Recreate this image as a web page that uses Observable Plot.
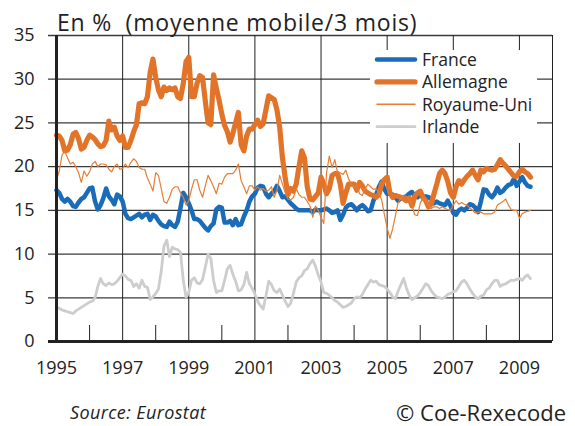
<!DOCTYPE html>
<html><head><meta charset="utf-8">
<script src="https://cdn.jsdelivr.net/npm/d3@7"></script>
<script src="https://cdn.jsdelivr.net/npm/@observablehq/plot@0.6"></script>
<style>
body{margin:0;background:#fff;}
#chart{width:575px;height:426px;}
</style></head><body><div id="chart"></div>
<script>
// Monthly data, January 1995 -> May 2009 (3-month moving average, %)
const startYear = 1995;
const france = [
17.3,17.0,16.3,16.0,16.3,16.0,15.5,15.4,15.9,16.3,16.5,17.0,17.5,17.6,16.0,15.1,15.6,16.4,17.5,16.6,
16.2,15.7,16.8,16.6,16.0,14.6,14.1,14.0,14.2,14.4,14.6,14.2,14.5,14.6,13.9,14.5,14.3,13.8,13.4,13.2,
13.1,13.7,13.3,13.1,13.7,15.3,17.0,16.5,15.8,15.0,14.0,14.0,13.8,13.4,13.0,12.7,13.2,13.5,15.1,15.4,
15.3,13.6,13.6,13.8,13.3,14.0,13.3,13.4,14.3,15.0,16.0,16.6,16.9,17.6,17.8,17.7,16.9,16.5,16.9,17.2,
17.8,17.2,16.5,16.6,16.2,15.8,15.5,15.2,15.0,15.0,15.0,15.0,15.0,14.8,15.1,15.0,15.0,15.1,15.2,15.0,
14.7,14.8,15.0,13.9,14.5,15.3,15.6,15.7,15.4,15.0,15.4,15.6,15.3,14.9,15.0,16.1,16.8,17.7,18.3,17.4,
16.9,16.9,16.8,16.5,16.1,16.4,16.5,16.6,16.9,17.1,16.6,16.5,16.9,16.4,16.6,16.5,16.3,15.8,16.0,15.8,
15.7,15.6,16.1,15.5,14.7,14.5,15.0,15.2,15.0,15.3,15.7,15.6,15.3,14.8,16.0,17.4,17.3,16.8,16.5,16.9,
17.6,17.0,17.2,17.6,17.9,18.0,18.6,17.8,18.3,18.8,18.2,17.8,17.7
];
const allemagne = [
23.6,23.5,23.0,21.8,21.9,22.5,23.7,23.9,23.2,22.0,22.2,23.0,23.6,23.4,23.1,22.6,22.3,22.4,23.0,25.2,
24.2,24.5,23.5,23.0,23.5,22.2,22.2,23.0,24.0,24.8,27.2,27.3,27.2,28.0,30.8,32.3,30.2,28.8,28.0,29.1,
28.7,29.0,28.8,29.0,28.0,27.8,29.5,32.0,32.5,28.0,28.0,29.5,30.4,30.2,27.5,25.0,24.8,30.5,29.0,27.6,
26.0,24.7,24.0,22.8,23.8,25.0,26.2,22.5,21.8,23.5,24.3,24.3,24.8,25.3,24.6,24.9,26.5,28.1,27.9,27.7,
26.5,24.5,21.0,18.7,16.8,17.5,17.2,18.0,20.0,21.8,21.0,17.7,16.3,16.2,16.6,17.0,18.8,18.0,16.9,17.5,
19.0,19.2,19.2,18.0,15.8,17.0,18.0,18.0,18.0,17.3,18.2,17.8,17.2,17.0,16.8,16.7,16.5,16.8,18.0,18.5,
18.8,17.0,16.5,16.7,16.6,16.5,16.3,16.1,16.4,15.5,16.6,17.0,17.2,16.5,16.1,15.4,15.7,16.9,18.0,19.2,
19.6,19.2,18.3,17.0,16.5,17.7,18.4,18.0,18.5,18.9,19.2,19.6,19.0,18.5,19.6,19.4,19.8,19.7,19.6,19.7,
20.2,20.8,20.4,20.1,19.7,19.3,18.9,18.9,19.4,19.7,19.4,19.2,18.8
];
const royaumeUni = [
18.5,19.5,21.3,21.8,21.0,20.3,20.5,20.0,19.3,18.2,19.5,18.9,19.4,20.3,20.6,20.0,20.3,20.3,20.2,19.7,
19.4,20.0,20.3,19.7,19.8,20.3,19.9,20.5,20.9,20.6,19.9,19.7,19.7,18.7,18.0,17.2,19.3,19.0,17.5,16.0,
15.8,16.5,17.4,17.7,17.7,17.0,16.5,15.6,16.1,17.4,18.5,18.5,17.3,16.5,17.8,19.0,18.4,17.7,16.9,18.1,
18.0,18.8,19.2,19.2,19.2,19.6,20.3,18.4,17.7,16.9,17.8,17.8,17.3,17.7,17.3,17.5,17.2,17.3,17.7,16.5,
17.3,19.0,18.0,17.0,16.3,16.2,16.5,17.5,16.8,16.5,16.5,16.0,15.5,14.2,15.5,15.0,14.2,13.5,19.3,21.2,
19.9,20.8,19.3,19.3,19.1,19.6,18.6,18.0,17.7,17.9,16.9,16.7,17.5,18.0,17.7,17.4,17.5,17.0,16.2,14.5,
13.0,11.8,12.9,14.4,15.9,16.4,16.7,16.6,16.2,15.6,14.5,14.4,15.8,16.4,16.2,15.6,15.2,15.4,15.4,15.2,
15.4,15.2,15.1,15.0,15.6,16.1,15.7,15.9,15.7,15.6,15.3,15.0,14.7,14.8,14.8,14.6,14.6,14.6,14.6,14.8,
15.6,15.8,16.0,16.3,15.6,15.1,15.0,15.0,14.1,14.6,14.8,14.9,15.0
];
const irlande = [
3.9,3.8,3.6,3.5,3.4,3.3,3.2,3.5,3.7,3.9,4.1,4.3,4.5,4.6,5.0,6.3,7.2,6.6,6.4,6.7,
6.5,6.6,6.9,7.3,7.7,7.5,7.1,7.0,6.3,6.6,6.1,7.0,6.3,6.2,4.8,5.1,5.5,6.0,8.0,10.9,
11.6,9.7,10.8,10.6,10.5,10.2,7.0,5.1,5.6,7.0,7.3,6.7,6.6,7.1,8.5,10.0,9.5,7.0,5.6,5.8,
5.8,7.0,8.3,8.7,7.7,6.9,5.8,5.9,6.5,7.9,6.6,6.1,5.4,4.6,4.1,3.7,5.2,6.9,6.5,5.8,
5.6,6.0,5.3,4.6,4.0,4.4,5.5,6.8,7.3,7.5,8.1,8.3,8.9,9.3,8.6,7.6,6.8,5.6,5.5,5.3,
5.0,4.7,4.5,4.2,3.9,4.0,4.2,4.4,4.9,5.1,5.0,5.4,6.0,6.5,7.0,6.8,6.9,6.5,6.4,6.3,
6.0,5.6,5.1,4.9,5.8,6.5,7.2,6.1,5.3,4.8,5.0,5.2,5.6,6.1,6.6,6.4,5.8,5.4,5.1,5.0,
4.9,5.1,5.4,5.5,5.7,5.8,6.3,6.8,7.0,6.6,6.0,5.5,5.1,4.9,5.2,5.3,5.9,6.1,6.6,7.0,
7.0,6.3,6.5,6.6,6.8,7.0,7.0,7.1,7.2,7.0,7.4,7.6,7.2
];
const seriesNames = ["France", "Allemagne", "Royaume-Uni", "Irlande"];
const yTicks = [0, 5, 10, 15, 20, 25, 30, 35];
const xLabels = [1995, 1997, 1999, 2001, 2003, 2005, 2007, 2009];
const xMinorTicks = [1996, 1998, 2000, 2002, 2004, 2006, 2008];
const title = "En %  (moyenne mobile/3 mois)";
const source = "Source: Eurostat";
const credit = "© Coe-Rexecode";

// styles (kept apart from the data)
const FONT = "'Open Sans', Lato, sans-serif";
const styles = {
  "France":      {stroke: "#1a6cb8", width: 4.5},
  "Allemagne":   {stroke: "#e2742a", width: 5.2},
  "Royaume-Uni": {stroke: "#e57e34", width: 1.2},
  "Irlande":     {stroke: "#cdcdcd", width: 2.8}
};
const valuesByName = {"France": france, "Allemagne": allemagne, "Royaume-Uni": royaumeUni, "Irlande": irlande};
const rowsFor = name => valuesByName[name].map((v, i) => ({serie: name, t: startYear + i / 12, v}));

const drawOrder = ["France", "Allemagne", "Royaume-Uni", "Irlande"];

const svg = Plot.plot({
  width: 575, height: 426,
  marginLeft: 56, marginRight: 23, marginTop: 35, marginBottom: 85,
  x: {domain: [1995, 2010]},
  y: {domain: [0, 35]},
  style: {fontFamily: FONT, fontSize: "18px", color: "#222", background: "white"},
  marks: [
    Plot.ruleY(yTicks.filter(d => d > 0), {stroke: "#3a3a3a", strokeWidth: 1.3, insetLeft: -8}),
    Plot.ruleX(xLabels.filter(d => d > 1995), {stroke: "#222", strokeWidth: 1}),
    Plot.ruleX(xMinorTicks, {stroke: "#222", strokeWidth: 1, insetTop: 290}),
    Plot.ruleX([2010], {stroke: "#222", strokeWidth: 1}),
    ...drawOrder.map(name => Plot.line(rowsFor(name), {
      x: "t", y: "v", stroke: styles[name].stroke, strokeWidth: styles[name].width,
      strokeLinejoin: "round", strokeLinecap: "round"
    })),
    Plot.ruleX([1995], {stroke: "#222", strokeWidth: 3}),
    Plot.ruleY([0], {stroke: "#222", strokeWidth: 3, insetLeft: -8}),
    Plot.axisY({ticks: yTicks, tickSize: 0, tickPadding: 22, fontSize: 18, label: null}),
    Plot.axisX({ticks: xLabels, tickSize: 0, tickPadding: 20, fontSize: 18, tickFormat: "d", label: null})
  ]
});

const s = d3.select(svg);
// legend
const lg = s.append("g").attr("font-family", FONT).attr("fill", "#222").attr("text-anchor", "start");
lg.append("rect").attr("x", 370).attr("y", 50).attr("width", 167).attr("height", 93).attr("fill", "white");
seriesNames.forEach((name, i) => {
  const y = 59.5 + i * 22.4;
  lg.append("line").attr("x1", 377).attr("x2", 415).attr("y1", y).attr("y2", y)
    .attr("stroke", styles[name].stroke).attr("stroke-width", Math.max(styles[name].width, 1.5))
    .attr("stroke-linecap", "round");
  lg.append("text").attr("x", 422).attr("y", y + 6.5).attr("font-size", 17.5).text(name);
});
// title & captions
s.append("text").attr("x", 57).attr("y", 31).attr("text-anchor", "start").attr("font-family", FONT)
  .attr("font-size", 23).attr("letter-spacing", 0.8).attr("fill", "#222").style("white-space", "pre").text(title);
s.append("text").attr("x", 70).attr("y", 419).attr("text-anchor", "start").attr("font-family", FONT)
  .attr("font-size", 18).attr("letter-spacing", 0.4).attr("font-style", "italic").attr("fill", "#222").text(source);
s.append("text").attr("x", 566).attr("y", 421).attr("text-anchor", "end").attr("font-family", FONT)
  .attr("font-size", 22).attr("fill", "#222").text(credit);

document.getElementById("chart").appendChild(svg);
</script></body></html>
